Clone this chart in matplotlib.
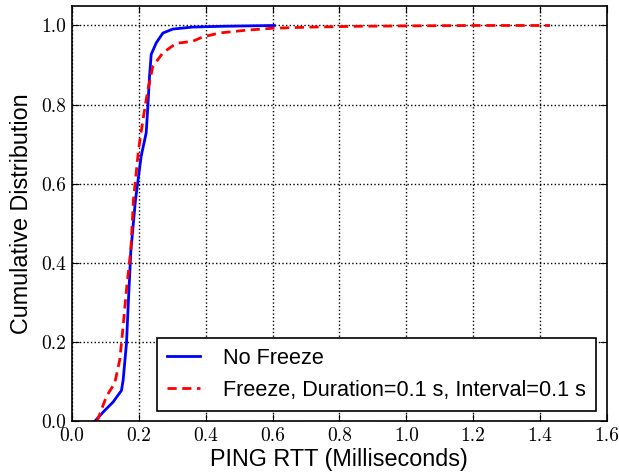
import matplotlib
matplotlib.use("Agg")
import matplotlib.pyplot as plt

# CDF points (RTT in ms, cumulative fraction)
no_freeze_x = [0.068, 0.095, 0.123, 0.148, 0.153, 0.163, 0.168, 0.176, 0.19, 0.207,
               0.222, 0.227, 0.232, 0.237, 0.252, 0.272, 0.302, 0.361, 0.45, 0.605]
no_freeze_y = [0.0, 0.025, 0.049, 0.078, 0.104, 0.197, 0.29, 0.43, 0.56, 0.67,
               0.729, 0.796, 0.872, 0.927, 0.956, 0.981, 0.991, 0.996, 0.998, 1.0]

freeze_x = [0.075, 0.103, 0.128, 0.143, 0.151, 0.163, 0.176, 0.184, 0.199, 0.214,
            0.227, 0.242, 0.272, 0.312, 0.361, 0.391, 0.441, 0.52, 0.6, 0.718,
            0.858, 1.0, 1.2, 1.43]
freeze_y = [0.0, 0.063, 0.097, 0.156, 0.223, 0.333, 0.434, 0.56, 0.686, 0.771,
            0.838, 0.897, 0.931, 0.955, 0.96, 0.971, 0.981, 0.988, 0.993, 0.996,
            0.998, 0.999, 1.0, 1.0]

labels = ["No Freeze", "Freeze, Duration=0.1 s, Interval=0.1 s"]

fig = plt.figure(figsize=(6.19, 4.74), dpi=100)
ax = fig.add_axes([0.1163, 0.111, 0.864, 0.877])

ax.plot(no_freeze_x, no_freeze_y, color="blue", lw=2, label=labels[0])
ax.plot(freeze_x, freeze_y, color="red", lw=2, ls="--", dashes=(3.3, 2), label=labels[1])

ax.set_xlim(0, 1.6)
ax.set_ylim(0, 1.05)
ax.set_xticks([0.0, 0.2, 0.4, 0.6, 0.8, 1.0, 1.2, 1.4, 1.6])
ax.set_yticks([0.0, 0.2, 0.4, 0.6, 0.8, 1.0])
ax.grid(True, color="black", ls=":", lw=1)
ax.tick_params(direction="in", top=True, right=True, length=5, labelsize=14, pad=4)
for lab in ax.get_xticklabels() + ax.get_yticklabels():
    lab.set_fontfamily("cmr10")
for s in ax.spines.values():
    s.set_linewidth(1.2)

ax.set_xlabel("PING RTT (Milliseconds)", fontsize=16.8, family="Liberation Sans", labelpad=2)
ax.set_ylabel("Cumulative Distribution", fontsize=16.8, family="Liberation Sans", labelpad=6)

leg = ax.legend(loc="lower right", prop={"family": "Liberation Sans", "size": 15.6},
                fancybox=False, framealpha=1, edgecolor="black",
                handlelength=1.5, handletextpad=1.1, borderpad=0.45,
                labelspacing=0.5, borderaxespad=0.5)
leg.get_frame().set_linewidth(1.2)

fig.savefig("out.png", dpi=100)
